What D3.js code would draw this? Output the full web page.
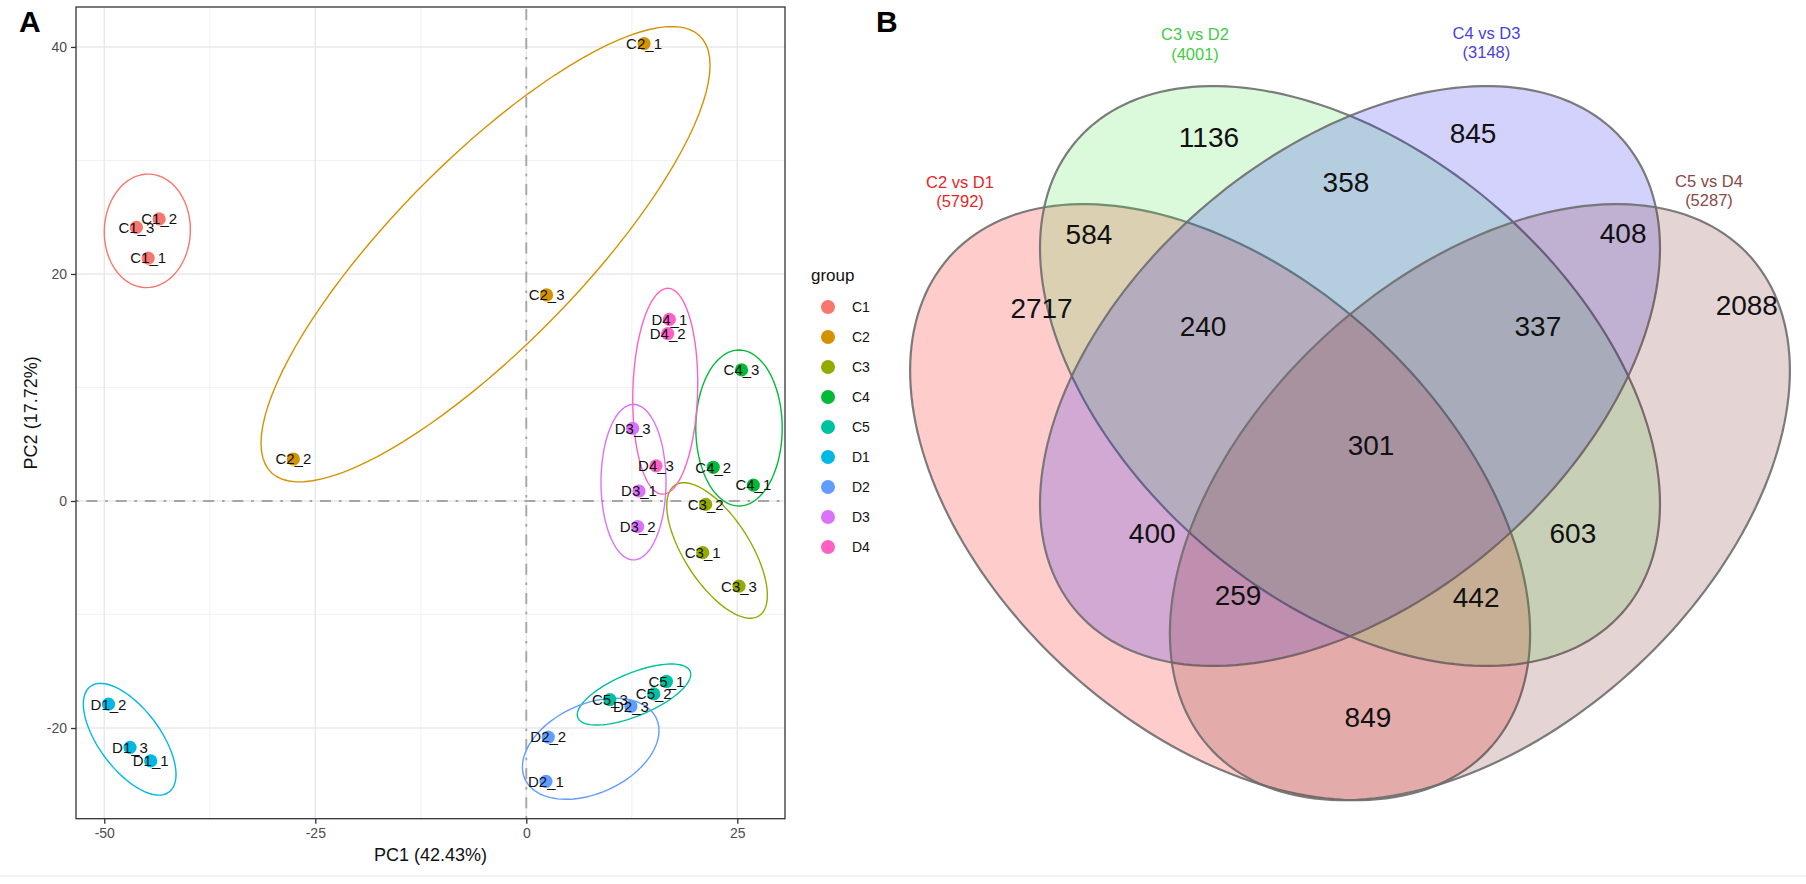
<!DOCTYPE html>
<html>
<head>
<meta charset="utf-8">
<script src="https://cdn.jsdelivr.net/npm/d3@7"></script>
<style>
  body { margin: 0; background: #fff; }
  svg { display: block; font-family: "Liberation Sans", Arial, Helvetica, sans-serif; }
</style>
</head>
<body>
<script>
// ---- panel A data (PCA scores) ----
var groups = ["C1", "C2", "C3", "C4", "C5", "D1", "D2", "D3", "D4"];
var groupColors = ["#F8766D", "#D39200", "#93AA00", "#00BA38", "#00C19F", "#00B9E3", "#619CFF", "#DB72FB", "#FF61C3"];

var sampleNames = ["C1_1", "C1_2", "C1_3", "C2_1", "C2_2", "C2_3", "C3_1", "C3_2", "C3_3",
                   "C4_1", "C4_2", "C4_3", "C5_1", "C5_2", "C5_3", "D1_1", "D1_2", "D1_3",
                   "D2_1", "D2_2", "D2_3", "D3_1", "D3_2", "D3_3", "D4_1", "D4_2", "D4_3"];
var pc1 = [-44.8, -43.5, -46.2, 13.95, -27.6, 2.4, 20.9, 21.25, 25.2,
           26.9, 22.15, 25.5, 16.6, 15.1, 9.9, -44.5, -49.5, -46.95,
           2.33, 2.6, 12.4, 13.35, 13.2, 12.6, 16.95, 16.75, 15.37];
var pc2 = [21.4, 24.85, 24.1, 40.3, 3.7, 18.15, -4.55, -0.3, -7.5,
           1.4, 2.97, 11.55, -15.9, -17.0, -17.5, -22.9, -17.9, -21.7,
           -24.7, -20.8, -18.1, 0.88, -2.26, 6.4, 16.0, 14.75, 3.1];

// confidence ellipses per group (centre, half extent on each axis, correlation)
var ellCx = [-44.9, -4.83, 22.6, 25.2, 12.76, -46.99, 7.63, 12.7, 16.46];
var ellCy = [23.8, 21.74, -4.36, 6.43, -17.05, -20.99, -21.83, 1.66, 9.67];
var ellWx = [5.1, 26.6, 5.96, 5.12, 6.72, 5.49, 8.09, 3.85, 3.85];
var ellHy = [5.0, 20.06, 5.97, 6.87, 2.69, 4.92, 4.45, 6.85, 9.07];
var ellR  = [0.02, 0.83, -0.66, 0.0, 0.66, -0.63, 0.36, 0.0, 0.08];

var xTicks = [-50, -25, 0, 25];
var yTicks = [-20, 0, 20, 40];
var xMinor = [-37.5, -12.5, 12.5];
var yMinor = [-10, 10, 30];

// ---- panel B data (Venn counts) ----
var setNames = ["C2 vs D1", "C3 vs D2", "C4 vs D3", "C5 vs D4"];
var setTotals = [5792, 4001, 3148, 5287];
var setFills = ["#ff0000", "#4ce64c", "#1e1ef0", "#7a2a2a"];
var setTextColors = ["#e5262b", "#43cc43", "#4a3fdd", "#8a4848"];
var regionCounts = [2717, 584, 1136, 358, 845, 408, 2088, 240, 337, 301, 400, 603, 259, 442, 849];

// Venn layout (in ellipse units)
var setCu = [-0.419, 0, 0, 0.419];
var setCv = [-0.45, -0.027, -0.027, -0.45];
var setH = [1, 0.973, 0.973, 1];
var setRho = [-0.441, -0.441, 0.441, 0.441];
var regionU = [-0.995, -0.842, -0.455, -0.013, 0.397, 0.881, 1.28, -0.474, 0.606, 0.068, -0.638, 0.719, -0.361, 0.407, 0.058];
var regionV = [0.202, 0.450, 0.775, 0.624, 0.789, 0.453, 0.211, 0.141, 0.141, -0.258, -0.554, -0.554, -0.762, -0.768, -1.171];
var catU = [-1.258, -0.5, 0.44, 1.158];
var catV = [0.624, 1.12, 1.124, 0.628];

var W = 1806, H = 884;
var svg = d3.select("body").append("svg").attr("width", W).attr("height", H);

// ================= panel A =================
var x = d3.scaleLinear().domain([-53.35, 30.65]).range([76, 785]);
var y = d3.scaleLinear().domain([-27.99, 43.52]).range([818.7, 7]);
var color = d3.scaleOrdinal().domain(groups).range(groupColors);

var gA = svg.append("g");

gA.append("rect")
  .attr("x", x.range()[0]).attr("y", y.range()[1])
  .attr("width", x.range()[1] - x.range()[0])
  .attr("height", y.range()[0] - y.range()[1])
  .attr("fill", "#fff");

// grid
gA.selectAll(".gxm").data(xMinor).enter().append("line")
  .attr("x1", x).attr("x2", x).attr("y1", y.range()[0]).attr("y2", y.range()[1])
  .attr("stroke", "#ededed").attr("stroke-width", 0.8);
gA.selectAll(".gym").data(yMinor).enter().append("line")
  .attr("y1", y).attr("y2", y).attr("x1", x.range()[0]).attr("x2", x.range()[1])
  .attr("stroke", "#ededed").attr("stroke-width", 0.8);
gA.selectAll(".gx").data(xTicks).enter().append("line")
  .attr("x1", x).attr("x2", x).attr("y1", y.range()[0]).attr("y2", y.range()[1])
  .attr("stroke", "#e8e8e8").attr("stroke-width", 1.4);
gA.selectAll(".gy").data(yTicks).enter().append("line")
  .attr("y1", y).attr("y2", y).attr("x1", x.range()[0]).attr("x2", x.range()[1])
  .attr("stroke", "#e8e8e8").attr("stroke-width", 1.4);

// zero reference lines
var dash = "2.6,7.8,11,7.8";
gA.append("line")
  .attr("x1", x(0)).attr("x2", x(0)).attr("y1", y.range()[0]).attr("y2", y.range()[1])
  .attr("stroke", "#a6a6a6").attr("stroke-width", 1.9).attr("stroke-dasharray", dash);
gA.append("line")
  .attr("y1", y(0)).attr("y2", y(0)).attr("x1", x.range()[0]).attr("x2", x.range()[1])
  .attr("stroke", "#a6a6a6").attr("stroke-width", 1.9).attr("stroke-dasharray", dash);

// ellipses
var tSteps = d3.range(0, 101).map(function(i) { return i / 100 * 2 * Math.PI; });
var ellLine = d3.line().x(function(d) { return x(d[0]); }).y(function(d) { return y(d[1]); });
gA.selectAll(".ell").data(groups).enter().append("path")
  .attr("d", function(g, i) {
    var pts = tSteps.map(function(t) {
      return [ellCx[i] + ellWx[i] * Math.cos(t),
              ellCy[i] + ellR[i] * ellHy[i] * Math.cos(t) + ellHy[i] * Math.sqrt(1 - ellR[i] * ellR[i]) * Math.sin(t)];
    });
    return ellLine(pts);
  })
  .attr("fill", "none")
  .attr("stroke", function(g) { return color(g); })
  .attr("stroke-width", 1.4);

// points + labels
var samples = sampleNames.map(function(n, i) {
  return { name: n, group: n.split("_")[0], pc1: pc1[i], pc2: pc2[i] };
});
gA.selectAll(".pt").data(samples).enter().append("circle")
  .attr("cx", function(d) { return x(d.pc1); })
  .attr("cy", function(d) { return y(d.pc2); })
  .attr("r", 6.6)
  .attr("fill", function(d) { return color(d.group); });
gA.selectAll(".lab").data(samples).enter().append("text")
  .attr("x", function(d) { return x(d.pc1); })
  .attr("y", function(d) { return y(d.pc2); })
  .attr("dy", "0.36em")
  .attr("text-anchor", "middle")
  .attr("font-size", 15)
  .attr("fill", "#111")
  .text(function(d) { return d.name; });

// border
gA.append("rect")
  .attr("x", x.range()[0]).attr("y", y.range()[1])
  .attr("width", x.range()[1] - x.range()[0])
  .attr("height", y.range()[0] - y.range()[1])
  .attr("fill", "none").attr("stroke", "#333").attr("stroke-width", 1.3);

// axes
var ax = gA.append("g").attr("transform", "translate(0," + y.range()[0] + ")")
  .call(d3.axisBottom(x).tickValues(xTicks).tickSize(5).tickPadding(4)
    .tickFormat(function(d) { return String(d); }));
var ay = gA.append("g").attr("transform", "translate(" + x.range()[0] + ",0)")
  .call(d3.axisLeft(y).tickValues(yTicks).tickSize(5).tickPadding(4)
    .tickFormat(function(d) { return String(d); }));
[ax, ay].forEach(function(a) {
  a.select(".domain").remove();
  a.selectAll(".tick line").attr("stroke", "#333").attr("stroke-width", 1.3);
  a.selectAll(".tick text").attr("fill", "#4d4d4d").attr("font-size", 14)
    .attr("font-family", "Liberation Sans, Arial, sans-serif");
});

gA.append("text")
  .attr("x", (x.range()[0] + x.range()[1]) / 2).attr("y", 861)
  .attr("text-anchor", "middle").attr("font-size", 18).attr("fill", "#111")
  .text("PC1 (42.43%)");
gA.append("text")
  .attr("transform", "translate(37," + (y.range()[0] + y.range()[1]) / 2 + ") rotate(-90)")
  .attr("text-anchor", "middle").attr("font-size", 18).attr("fill", "#111")
  .text("PC2 (17.72%)");

// legend
var leg = gA.append("g").attr("transform", "translate(811,0)");
leg.append("text").attr("x", 0).attr("y", 281).attr("font-size", 17).attr("fill", "#111").text("group");
var legItem = leg.selectAll(".li").data(groups).enter().append("g")
  .attr("transform", function(d, i) { return "translate(0," + (307 + i * 30) + ")"; });
legItem.append("circle").attr("cx", 17).attr("cy", 0).attr("r", 7)
  .attr("fill", function(d) { return color(d); });
legItem.append("text").attr("x", 41).attr("y", 0).attr("dy", "0.36em")
  .attr("font-size", 14).attr("fill", "#111").text(function(d) { return d; });

svg.append("text").attr("x", 19).attr("y", 32).attr("font-size", 30)
  .attr("font-weight", "bold").text("A");

// ================= panel B =================
var vx = d3.scaleLinear().domain([0, 1]).range([1350, 1660]);
var vy = d3.scaleLinear().domain([0, 1]).range([368, 70]);
var gB = svg.append("g");

var vLine = d3.line().x(function(d) { return vx(d[0]); }).y(function(d) { return vy(d[1]); }).curve(d3.curveLinearClosed);
var tVenn = d3.range(0, 200).map(function(i) { return i / 200 * 2 * Math.PI; });

setNames.forEach(function(name, i) {
  var pts = tVenn.map(function(t) {
    return [setCu[i] + Math.cos(t),
            setCv[i] + setH[i] * (setRho[i] * Math.cos(t) + Math.sqrt(1 - setRho[i] * setRho[i]) * Math.sin(t))];
  });
  gB.append("path")
    .attr("d", vLine(pts))
    .attr("fill", setFills[i])
    .attr("fill-opacity", 0.2)
    .attr("stroke", "#6e6e6e")
    .attr("stroke-opacity", 0.9)
    .attr("stroke-width", 2.2);
});

gB.selectAll(".cnt").data(regionCounts).enter().append("text")
  .attr("x", function(d, i) { return vx(regionU[i]); })
  .attr("y", function(d, i) { return vy(regionV[i]); })
  .attr("dy", "0.36em")
  .attr("text-anchor", "middle")
  .attr("font-size", 28)
  .attr("fill", "#111")
  .text(function(d) { return d; });

var cat = gB.selectAll(".cat").data(setNames).enter().append("text")
  .attr("x", function(d, i) { return vx(catU[i]); })
  .attr("y", function(d, i) { return vy(catV[i]); })
  .attr("text-anchor", "middle")
  .attr("font-size", 16.5)
  .attr("fill", function(d, i) { return setTextColors[i]; });
cat.append("tspan").attr("dy", "0.36em").text(function(d) { return d; });
cat.append("tspan")
  .attr("x", function(d, i) { return vx(catU[i]); })
  .attr("dy", 19.5)
  .text(function(d, i) { return "(" + setTotals[i] + ")"; });

svg.append("text").attr("x", 876).attr("y", 32).attr("font-size", 30)
  .attr("font-weight", "bold").text("B");

svg.append("line").attr("x1", 0).attr("x2", W).attr("y1", 876).attr("y2", 876)
  .attr("stroke", "#f0f0f0").attr("stroke-width", 1.5);
</script>
</body>
</html>
